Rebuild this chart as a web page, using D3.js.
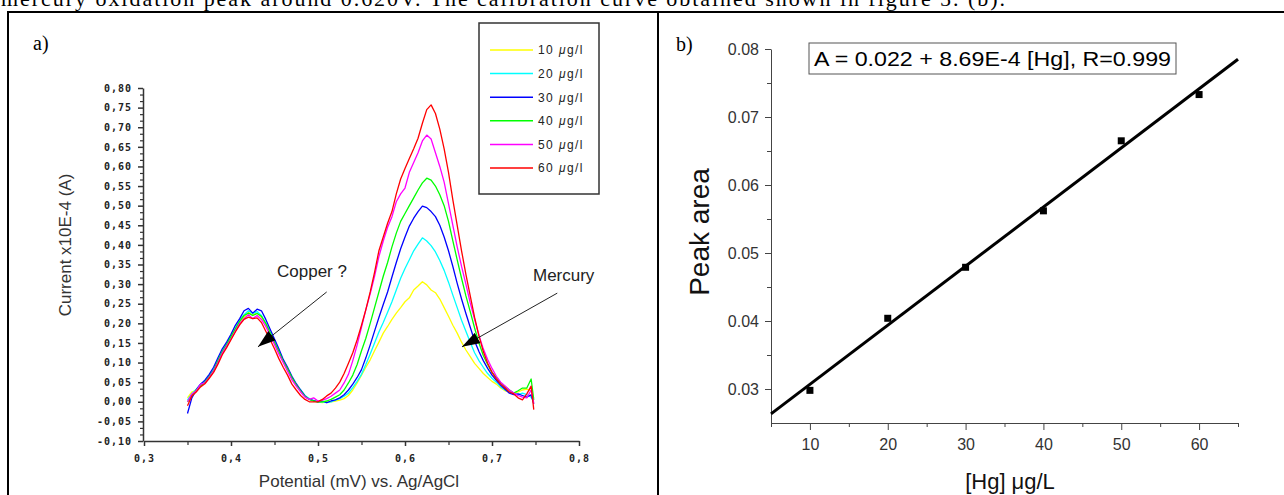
<!DOCTYPE html>
<html>
<head>
<meta charset="utf-8">
<script src="https://cdn.jsdelivr.net/npm/d3@7"></script>
<style>
  body { margin: 0; background: #fff; }
  svg { display: block; }
</style>
</head>
<body>
<svg id="figure" width="1284" height="495"></svg>
<script>

// ============================================================
//  DATA
// ============================================================

const CAPTION = "mercury oxidation peak around 0.620V. The calibration curve obtained shown in figure 5. (b).";

// -- a) voltammograms ----------------------------------------
const POTENTIAL = [
    0.350, 0.355, 0.360, 0.365, 0.370, 0.375, 0.380, 0.385, 0.390, 0.395,
    0.400, 0.405, 0.410, 0.415, 0.420, 0.425, 0.430, 0.435, 0.440, 0.445,
    0.450, 0.455, 0.460, 0.465, 0.470, 0.475, 0.480, 0.485, 0.490, 0.495,
    0.500, 0.505, 0.510, 0.515, 0.520, 0.525, 0.530, 0.535, 0.540, 0.545,
    0.550, 0.555, 0.560, 0.565, 0.570, 0.575, 0.580, 0.585, 0.590, 0.595,
    0.600, 0.605, 0.610, 0.615, 0.620, 0.625, 0.630, 0.635, 0.640, 0.645,
    0.650, 0.655, 0.660, 0.665, 0.670, 0.675, 0.680, 0.685, 0.690, 0.695,
    0.700, 0.705, 0.710, 0.715, 0.720, 0.725, 0.730, 0.735, 0.740, 0.745,
    0.748
];

const CURRENT_10 = [
    0.010, 0.025, 0.030, 0.042, 0.050, 0.062, 0.078, 0.100, 0.125, 0.142,
    0.162, 0.182, 0.200, 0.215, 0.228, 0.222, 0.226, 0.215, 0.198, 0.175,
    0.152, 0.128, 0.103, 0.082, 0.060, 0.042, 0.028, 0.015, 0.006, 0.002,
    0.000, -0.002, 0.000, 0.000, 0.002, 0.004, 0.008, 0.016, 0.030, 0.048,
    0.068, 0.088, 0.107, 0.130, 0.152, 0.175, 0.192, 0.210, 0.226, 0.240,
    0.255, 0.265, 0.285, 0.295, 0.306, 0.298, 0.285, 0.278, 0.262, 0.240,
    0.218, 0.195, 0.175, 0.152, 0.132, 0.115, 0.098, 0.085, 0.072, 0.062,
    0.052, 0.045, 0.035, 0.028, 0.025, 0.022, 0.025, 0.030, 0.032, 0.028,
    0.010
];

const CURRENT_20 = [
    0.005, 0.020, 0.032, 0.045, 0.052, 0.066, 0.082, 0.105, 0.130, 0.148,
    0.168, 0.188, 0.208, 0.222, 0.232, 0.225, 0.230, 0.220, 0.200, 0.178,
    0.155, 0.130, 0.106, 0.085, 0.062, 0.044, 0.030, 0.016, 0.008, 0.003,
    0.000, 0.000, -0.002, 0.000, 0.004, 0.008, 0.014, 0.022, 0.036, 0.052,
    0.070, 0.095, 0.122, 0.150, 0.178, 0.202, 0.228, 0.255, 0.285, 0.315,
    0.340, 0.362, 0.385, 0.402, 0.418, 0.410, 0.398, 0.382, 0.360, 0.335,
    0.305, 0.272, 0.240, 0.208, 0.180, 0.152, 0.125, 0.105, 0.088, 0.072,
    0.060, 0.050, 0.038, 0.030, 0.025, 0.020, 0.018, 0.022, 0.018, 0.012,
    0.000
];

const CURRENT_30 = [
    -0.030, 0.010, 0.030, 0.045, 0.055, 0.070, 0.088, 0.112, 0.135, 0.152,
    0.172, 0.195, 0.212, 0.232, 0.238, 0.226, 0.236, 0.232, 0.210, 0.185,
    0.160, 0.135, 0.108, 0.088, 0.065, 0.046, 0.030, 0.015, 0.006, 0.003,
    0.000, 0.002, -0.002, 0.002, 0.005, 0.010, 0.018, 0.030, 0.045, 0.062,
    0.082, 0.112, 0.145, 0.180, 0.215, 0.248, 0.280, 0.318, 0.355, 0.390,
    0.420, 0.448, 0.468, 0.485, 0.499, 0.495, 0.485, 0.472, 0.450, 0.420,
    0.385, 0.345, 0.302, 0.262, 0.225, 0.190, 0.155, 0.128, 0.105, 0.085,
    0.068, 0.055, 0.042, 0.032, 0.022, 0.018, 0.020, 0.016, 0.012, 0.018,
    -0.005
];

const CURRENT_40 = [
    0.000, 0.015, 0.030, 0.040, 0.050, 0.064, 0.080, 0.105, 0.128, 0.146,
    0.166, 0.186, 0.205, 0.220, 0.226, 0.220, 0.225, 0.218, 0.200, 0.176,
    0.152, 0.128, 0.104, 0.084, 0.062, 0.043, 0.028, 0.014, 0.006, 0.002,
    0.000, 0.000, 0.002, 0.006, 0.012, 0.018, 0.030, 0.048, 0.068, 0.095,
    0.130, 0.162, 0.200, 0.240, 0.280, 0.320, 0.355, 0.395, 0.430, 0.460,
    0.480, 0.500, 0.520, 0.540, 0.558, 0.570, 0.565, 0.550, 0.528, 0.500,
    0.460, 0.410, 0.362, 0.315, 0.270, 0.230, 0.188, 0.150, 0.118, 0.095,
    0.075, 0.062, 0.048, 0.038, 0.030, 0.022, 0.028, 0.035, 0.035, 0.058,
    0.005
];

const CURRENT_50 = [
    0.000, 0.020, 0.028, 0.045, 0.048, 0.062, 0.078, 0.100, 0.124, 0.142,
    0.160, 0.180, 0.200, 0.212, 0.222, 0.212, 0.220, 0.210, 0.192, 0.170,
    0.146, 0.122, 0.100, 0.078, 0.056, 0.040, 0.025, 0.012, 0.006, 0.010,
    0.002, 0.004, 0.008, 0.014, 0.022, 0.030, 0.048, 0.070, 0.105, 0.145,
    0.190, 0.235, 0.275, 0.320, 0.370, 0.410, 0.445, 0.472, 0.510, 0.530,
    0.545, 0.585, 0.610, 0.635, 0.665, 0.680, 0.670, 0.635, 0.600, 0.560,
    0.505, 0.450, 0.395, 0.345, 0.300, 0.252, 0.210, 0.170, 0.135, 0.108,
    0.085, 0.065, 0.050, 0.040, 0.030, 0.022, 0.016, 0.012, 0.010, 0.030,
    -0.005
];

const CURRENT_60 = [
    -0.010, 0.015, 0.025, 0.038, 0.046, 0.060, 0.075, 0.096, 0.120, 0.138,
    0.158, 0.178, 0.196, 0.210, 0.216, 0.212, 0.214, 0.202, 0.180, 0.158,
    0.135, 0.110, 0.088, 0.068, 0.045, 0.030, 0.016, 0.006, 0.000, 0.000,
    0.000, 0.006, 0.015, 0.022, 0.035, 0.050, 0.072, 0.098, 0.125, 0.158,
    0.195, 0.235, 0.280, 0.330, 0.385, 0.420, 0.455, 0.485, 0.530, 0.568,
    0.595, 0.620, 0.645, 0.672, 0.710, 0.745, 0.757, 0.735, 0.695, 0.645,
    0.585, 0.515, 0.450, 0.385, 0.325, 0.270, 0.215, 0.168, 0.128, 0.098,
    0.075, 0.058, 0.045, 0.035, 0.025, 0.020, 0.010, 0.005, 0.020, 0.040,
    -0.020
];

const SERIES_LABELS = ["10", "20", "30", "40", "50", "60"];
const SERIES_COLORS = ["#ffff00", "#00ffff", "#0000ff", "#00ff00", "#ff00ff", "#ff0000"];

const LEFT_X_TICKS = [0.3, 0.4, 0.5, 0.6, 0.7, 0.8];
const LEFT_X_MINOR = [0.35, 0.45, 0.55, 0.65, 0.75];
const LEFT_Y_TICKS = [-0.10, -0.05, 0.00, 0.05, 0.10, 0.15, 0.20, 0.25, 0.30, 0.35,
                      0.40, 0.45, 0.50, 0.55, 0.60, 0.65, 0.70, 0.75, 0.80];

// -- b) calibration ------------------------------------------
const HG_CONC = [10, 20, 30, 40, 50, 60];
const PEAK_AREA = [0.0298, 0.0404, 0.0479, 0.0562, 0.0665, 0.0733];
const FIT_X = [5, 65];
const FIT_INTERCEPT = 0.022;
const FIT_SLOPE = 8.69e-4;
const FIT_LABEL = "A = 0.022 + 8.69E-4 [Hg], R=0.999";

const RIGHT_X_TICKS = [10, 20, 30, 40, 50, 60];
const RIGHT_X_MINOR = [5, 15, 25, 35, 45, 55, 65];
const RIGHT_Y_TICKS = [0.03, 0.04, 0.05, 0.06, 0.07, 0.08];
const RIGHT_Y_MINOR = [0.035, 0.045, 0.055, 0.065, 0.075];


// ============================================================
//  CONFIGURATION
// ============================================================

const CONFIG = {
    WIDTH: 1284,
    HEIGHT: 495,

    // -- Page frame ------------------------------------------
    FRAME_TOP: 12,
    FRAME_LEFT: 8,
    FRAME_DIVIDER: 658,
    SERIF: "'Liberation Serif', 'Times New Roman', serif",
    SANS: "'Liberation Sans', Arial, sans-serif",

    // -- Panel a ---------------------------------------------
    LEFT: { X0: 144, X1: 579, Y0: 441, Y1: 88 },
    LEFT_TICK_FONT: "'DejaVu Sans Mono', monospace",
    LEFT_AXIS_COLOR: "#333",
    LINE_WIDTH: 1.3,
    LEGEND: { X: 479, Y: 23, W: 120, H: 171, FIRST: 50, STEP: 23.6, LX0: 490, LX1: 533, TX: 538 },

    // -- Panel b ---------------------------------------------
    RIGHT: { X0: 771, X1: 1238, Y0: 423, Y1: 49 },
    RIGHT_AXIS_COLOR: "#444",
    FIT_WIDTH: 3,
    POINT_SIZE: 7,
    EQ_BOX: { X: 809, Y: 43, W: 367, H: 31 },
};


// ============================================================
//  HELPERS
// ============================================================

const commaFmt = digits => d =>
    (d < 0 ? "-" : "") + Math.abs(d).toFixed(digits).replace(".", ",");

function styleAxis(g, color, width) {
    g.select(".domain").attr("stroke", color).attr("stroke-width", width);
    g.selectAll(".tick line").attr("stroke", color).attr("stroke-width", width);
}


// ============================================================
//  PAGE
// ============================================================

const svg = d3.select("#figure");

svg.append("rect")
    .attr("width", CONFIG.WIDTH)
    .attr("height", CONFIG.HEIGHT)
    .attr("fill", "#fff");

// caption line of the surrounding document, cut by the top edge as in the original
svg.append("text")
    .attr("x", 1)
    .attr("y", 6)
    .attr("font-family", CONFIG.SERIF)
    .attr("font-size", 22)
    .attr("textLength", 1004)
    .attr("lengthAdjust", "spacing")
    .text(CAPTION);

const frame = svg.append("g")
    .attr("stroke", "#000")
    .attr("stroke-width", 2);

frame.append("line")
    .attr("x1", CONFIG.FRAME_LEFT - 1).attr("x2", CONFIG.WIDTH)
    .attr("y1", CONFIG.FRAME_TOP).attr("y2", CONFIG.FRAME_TOP);
frame.append("line")
    .attr("x1", CONFIG.FRAME_LEFT).attr("x2", CONFIG.FRAME_LEFT)
    .attr("y1", CONFIG.FRAME_TOP).attr("y2", CONFIG.HEIGHT);
frame.append("line")
    .attr("x1", CONFIG.FRAME_DIVIDER).attr("x2", CONFIG.FRAME_DIVIDER)
    .attr("y1", CONFIG.FRAME_TOP).attr("y2", CONFIG.HEIGHT);

// arrowhead for the annotations
svg.append("defs").append("marker")
    .attr("id", "arrow")
    .attr("markerUnits", "userSpaceOnUse")
    .attr("viewBox", "0 0 18 12")
    .attr("refX", 18)
    .attr("refY", 6)
    .attr("markerWidth", 18)
    .attr("markerHeight", 12)
    .attr("orient", "auto")
    .append("path")
    .attr("d", "M0,0 L18,6 L0,12 Z")
    .attr("fill", "#000");


// ============================================================
//  PANEL a — VOLTAMMOGRAMS
// ============================================================

function drawVoltammograms() {
    const L = CONFIG.LEFT;
    const x = d3.scaleLinear().domain([0.3, 0.8]).range([L.X0, L.X1]);
    const y = d3.scaleLinear().domain([-0.10, 0.80]).range([L.Y0, L.Y1]);
    const color = CONFIG.LEFT_AXIS_COLOR;

    svg.append("text")
        .attr("x", 33).attr("y", 50)
        .attr("font-family", CONFIG.SERIF)
        .attr("font-size", 20)
        .text("a)");

    // --- Axes ---
    const gx = svg.append("g")
        .attr("transform", `translate(0,${L.Y0})`)
        .call(d3.axisBottom(x).tickValues(LEFT_X_TICKS).tickSize(5).tickSizeOuter(0)
            .tickPadding(9).tickFormat(commaFmt(1)));
    styleAxis(gx, color, 1.5);

    const gxm = svg.append("g")
        .attr("transform", `translate(0,${L.Y0})`)
        .call(d3.axisBottom(x).tickValues(LEFT_X_MINOR).tickSize(4).tickFormat(""));
    gxm.select(".domain").remove();
    styleAxis(gxm, color, 1.2);

    const gy = svg.append("g")
        .attr("transform", `translate(${L.X0 - 1},0)`)
        .call(d3.axisLeft(y).tickValues(LEFT_Y_TICKS).tickSize(5).tickSizeOuter(0)
            .tickPadding(6).tickFormat(commaFmt(2)));
    styleAxis(gy, color, 1.5);

    // two minor ticks between each pair of labelled ticks
    const yMinor = d3.pairs(LEFT_Y_TICKS).flatMap(([a, b]) => [a + (b - a) / 3, a + 2 * (b - a) / 3]);
    const gym = svg.append("g")
        .attr("transform", `translate(${L.X0 - 1},0)`)
        .call(d3.axisLeft(y).tickValues(yMinor).tickSize(3).tickFormat(""));
    gym.select(".domain").remove();
    styleAxis(gym, color, 1.2);

    [gx, gy].forEach(g => g.selectAll(".tick text")
        .attr("font-family", CONFIG.LEFT_TICK_FONT)
        .attr("font-size", 10)
        .attr("font-weight", "bold")
        .attr("letter-spacing", 1)
        .attr("fill", "#222"));

    // --- Axis titles ---
    svg.append("text")
        .attr("transform", "translate(71,245) rotate(-90)")
        .attr("text-anchor", "middle")
        .attr("font-family", CONFIG.SANS)
        .attr("font-size", 17)
        .attr("fill", "#333")
        .text("Current x10E-4 (A)");

    svg.append("text")
        .attr("x", 359).attr("y", 487)
        .attr("text-anchor", "middle")
        .attr("font-family", CONFIG.SANS)
        .attr("font-size", 17)
        .attr("fill", "#333")
        .text("Potential (mV) vs. Ag/AgCl");

    // --- Curves ---
    const seriesValues = [CURRENT_10, CURRENT_20, CURRENT_30, CURRENT_40, CURRENT_50, CURRENT_60];
    const series = SERIES_LABELS.map((label, i) => ({
        label, color: SERIES_COLORS[i], values: seriesValues[i]
    }));

    const line = d3.line()
        .x((d, i) => x(POTENTIAL[i]))
        .y(d => y(d));

    svg.append("g")
        .selectAll("path")
        .data(series)
        .join("path")
        .attr("d", d => line(d.values))
        .attr("fill", "none")
        .attr("stroke", d => d.color)
        .attr("stroke-width", CONFIG.LINE_WIDTH)
        .attr("stroke-linejoin", "round");

    // --- Annotations ---
    const notes = [
        { text: "Copper ?", tx: 0.4529, ty: 0.317, from: [0.510, 0.280], to: [0.431, 0.140] },
        { text: "Mercury",  tx: 0.7471, ty: 0.309, from: [0.775, 0.277], to: [0.6655, 0.140] },
    ];

    notes.forEach(n => {
        svg.append("text")
            .attr("x", x(n.tx)).attr("y", y(n.ty))
            .attr("font-family", CONFIG.SANS)
            .attr("font-size", 17)
            .attr("fill", "#222")
            .text(n.text);
        svg.append("line")
            .attr("x1", x(n.from[0])).attr("y1", y(n.from[1]))
            .attr("x2", x(n.to[0])).attr("y2", y(n.to[1]))
            .attr("stroke", "#222")
            .attr("stroke-width", 1)
            .attr("marker-end", "url(#arrow)");
    });

    // --- Legend ---
    const G = CONFIG.LEGEND;
    svg.append("rect")
        .attr("x", G.X).attr("y", G.Y)
        .attr("width", G.W).attr("height", G.H)
        .attr("fill", "#fff")
        .attr("stroke", "#333")
        .attr("stroke-width", 1.5);

    const item = svg.append("g")
        .selectAll("g")
        .data(series)
        .join("g")
        .attr("transform", (d, i) => `translate(0,${G.FIRST + i * G.STEP})`);

    item.append("line")
        .attr("x1", G.LX0).attr("x2", G.LX1)
        .attr("stroke", d => d.color)
        .attr("stroke-width", 1.5);

    const label = item.append("text")
        .attr("x", G.TX)
        .attr("dy", "0.36em")
        .attr("font-family", CONFIG.SANS)
        .attr("font-size", 12)
        .attr("letter-spacing", 1.4)
        .attr("fill", "#222");
    label.append("tspan").text(d => d.label + "  ");
    label.append("tspan").attr("font-style", "italic").text("\u03bc");
    label.append("tspan").text("g/l");
}


// ============================================================
//  PANEL b — CALIBRATION CURVE
// ============================================================

function drawCalibration() {
    const R = CONFIG.RIGHT;
    const x = d3.scaleLinear().domain([5, 65]).range([R.X0, R.X1]);
    const y = d3.scaleLinear().domain([0.025, 0.08]).range([R.Y0, R.Y1]);
    const color = CONFIG.RIGHT_AXIS_COLOR;

    svg.append("text")
        .attr("x", 676).attr("y", 51)
        .attr("font-family", CONFIG.SERIF)
        .attr("font-size", 20)
        .text("b)");

    // --- Axes ---
    const gx = svg.append("g")
        .attr("transform", `translate(0,${R.Y0})`)
        .call(d3.axisBottom(x).tickValues(RIGHT_X_TICKS).tickSize(7).tickSizeOuter(0)
            .tickPadding(9).tickFormat(d3.format("d")));
    styleAxis(gx, color, 1);

    const gxm = svg.append("g")
        .attr("transform", `translate(0,${R.Y0})`)
        .call(d3.axisBottom(x).tickValues(RIGHT_X_MINOR).tickSize(4).tickFormat(""));
    gxm.select(".domain").remove();
    styleAxis(gxm, color, 1);

    const gy = svg.append("g")
        .attr("transform", `translate(${R.X0},0)`)
        .call(d3.axisLeft(y).tickValues(RIGHT_Y_TICKS).tickSize(6).tickSizeOuter(0)
            .tickPadding(6).tickFormat(d3.format(".2f")));
    styleAxis(gy, color, 1);

    const gym = svg.append("g")
        .attr("transform", `translate(${R.X0},0)`)
        .call(d3.axisLeft(y).tickValues(RIGHT_Y_MINOR).tickSize(4).tickFormat(""));
    gym.select(".domain").remove();
    styleAxis(gym, color, 1);

    [gx, gy].forEach(g => g.selectAll(".tick text")
        .attr("font-family", CONFIG.SANS)
        .attr("font-size", 16)
        .attr("fill", "#333"));

    // --- Axis titles ---
    svg.append("text")
        .attr("transform", "translate(709,232) rotate(-90)")
        .attr("text-anchor", "middle")
        .attr("font-family", CONFIG.SANS)
        .attr("font-size", 28)
        .attr("fill", "#111")
        .text("Peak area");

    svg.append("text")
        .attr("x", 1010).attr("y", 489)
        .attr("text-anchor", "middle")
        .attr("font-family", CONFIG.SANS)
        .attr("font-size", 22)
        .attr("fill", "#111")
        .text("[Hg] \u03bcg/L");

    // --- Fit line ---
    const fit = FIT_X.map(c => ({ c, a: FIT_INTERCEPT + FIT_SLOPE * c }));
    svg.append("path")
        .datum(fit)
        .attr("d", d3.line().x(d => x(d.c)).y(d => y(d.a)))
        .attr("fill", "none")
        .attr("stroke", "#000")
        .attr("stroke-width", CONFIG.FIT_WIDTH);

    // --- Points ---
    const s = CONFIG.POINT_SIZE;
    svg.append("g")
        .selectAll("rect")
        .data(HG_CONC.map((c, i) => ({ c, a: PEAK_AREA[i] })))
        .join("rect")
        .attr("x", d => x(d.c) - s / 2)
        .attr("y", d => y(d.a) - s / 2)
        .attr("width", s)
        .attr("height", s)
        .attr("fill", "#000");

    // --- Equation box ---
    const B = CONFIG.EQ_BOX;
    svg.append("rect")
        .attr("x", B.X).attr("y", B.Y)
        .attr("width", B.W).attr("height", B.H)
        .attr("fill", "#fff")
        .attr("stroke", "#555")
        .attr("stroke-width", 1);

    svg.append("text")
        .attr("x", B.X + 5).attr("y", B.Y + 23)
        .attr("font-family", CONFIG.SANS)
        .attr("font-size", 21)
        .attr("textLength", B.W - 10)
        .attr("lengthAdjust", "spacingAndGlyphs")
        .attr("fill", "#000")
        .text(FIT_LABEL);
}

drawVoltammograms();
drawCalibration();

</script>
</body>
</html>
